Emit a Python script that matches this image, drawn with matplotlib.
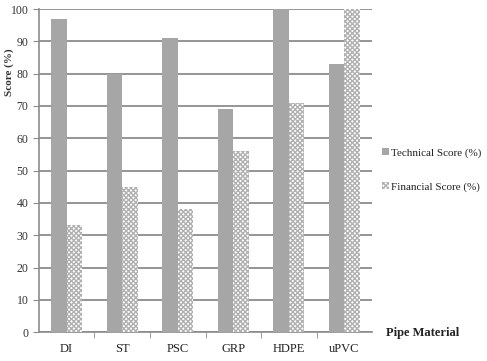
import numpy as np
import matplotlib
matplotlib.use("Agg")
import matplotlib.pyplot as plt

materials = ["DI", "ST", "PSC", "GRP", "HDPE", "uPVC"]
technical = [97, 80, 91, 69, 100, 83]
financial = [33, 45, 38, 56, 71, 100]

plt.rcParams["font.family"] = ["Liberation Serif", "DejaVu Serif"]
plt.rcParams["hatch.linewidth"] = 1.0
plt.rcParams["hatch.color"] = "#b0b0b0"

fig = plt.figure(figsize=(4.87, 3.61), dpi=100)
ax = fig.add_axes([0.080, 0.080, 0.684, 0.895])

x = np.arange(len(materials))
w = 0.28
ax.bar(x - w / 2, technical, w, color="#a6a6a6", label="Technical Score (%)", zorder=3)
ax.bar(x + w / 2, financial, w, color="white", edgecolor="#b0b0b0", linewidth=0,
       hatch="xxxxxxx", label="Financial Score (%)", zorder=3)

ax.set_xlim(-0.5, len(materials) - 0.5)
ax.set_ylim(0, 100)
ax.set_yticks(np.arange(0, 101, 10))
ax.yaxis.grid(True, color="#8c8c8c", lw=1.3, zorder=0)
ax.set_xticks(x)
ax.set_xticklabels(materials, fontsize=9, color="#222222")
ax.set_xticks(np.arange(0.5, len(materials) - 0.5, 1), minor=True)
ax.tick_params(axis="x", which="major", length=0, pad=8)
ax.tick_params(axis="x", which="minor", length=4, color="#8c8c8c")
ax.tick_params(axis="y", length=4, color="#8c8c8c", labelsize=8.5, labelcolor="#333333")
for s in ("top", "right"):
    ax.spines[s].set_visible(False)
for s in ("left", "bottom"):
    ax.spines[s].set_color("#8c8c8c")
    ax.spines[s].set_linewidth(1.2)

fig.text(0.018, 0.80, "Score (%)", rotation=90, ha="center", va="center",
         fontsize=8, fontweight="bold", color="#333333")
fig.text(0.792, 0.078, "Pipe Material", ha="left", va="center",
         fontsize=9, fontweight="bold", color="#222222")

fig.legend(loc="upper left", bbox_to_anchor=(0.766, 0.615), frameon=False,
           fontsize=8, handlelength=0.6, handleheight=0.6, handletextpad=0.2,
           labelspacing=2.2, borderpad=0.3, labelcolor="#222222")

fig.savefig("out.png", dpi=100)
